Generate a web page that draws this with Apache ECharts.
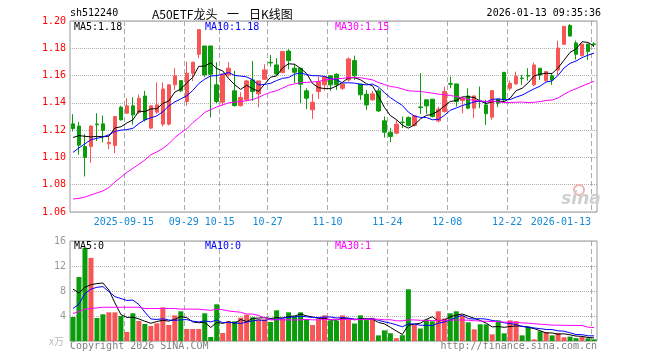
<!DOCTYPE html>
<html><head><meta charset="utf-8">
<script src="https://cdn.jsdelivr.net/npm/echarts@6/dist/echarts.min.js"></script>
<style>html,body{margin:0;padding:0;background:#fff}#c{width:660px;height:360px}</style>
</head><body><div id="c"></div>
<script>
const dates = ['2025-09-02','2025-09-03','2025-09-04','2025-09-05','2025-09-08','2025-09-09','2025-09-10','2025-09-11','2025-09-12',
'2025-09-15','2025-09-16','2025-09-17','2025-09-18','2025-09-19','2025-09-22','2025-09-23','2025-09-24','2025-09-25','2025-09-26',
'2025-09-29','2025-09-30','2025-10-09','2025-10-10','2025-10-13','2025-10-14','2025-10-15','2025-10-16','2025-10-17',
'2025-10-20','2025-10-21','2025-10-22','2025-10-23','2025-10-24','2025-10-27','2025-10-28','2025-10-29','2025-10-30','2025-10-31',
'2025-11-03','2025-11-04','2025-11-05','2025-11-06','2025-11-07','2025-11-10','2025-11-11','2025-11-12','2025-11-13','2025-11-14',
'2025-11-17','2025-11-18','2025-11-19','2025-11-20','2025-11-21','2025-11-24','2025-11-25','2025-11-26','2025-11-27','2025-11-28',
'2025-12-01','2025-12-02','2025-12-03','2025-12-04','2025-12-05','2025-12-08','2025-12-09','2025-12-10','2025-12-11','2025-12-12',
'2025-12-15','2025-12-16','2025-12-17','2025-12-18','2025-12-19','2025-12-22','2025-12-23','2025-12-24','2025-12-25','2025-12-26',
'2025-12-29','2025-12-30','2025-12-31','2026-01-05','2026-01-06','2026-01-07','2026-01-08','2026-01-09','2026-01-12','2026-01-13'];

const opens = [1.1246,1.123,1.108,1.108,1.1245,1.1246,1.110,1.1088,1.1368,1.1324,
1.1378,1.133,1.145,1.1215,1.1332,1.1244,1.1244,1.1532,1.1563,1.141,
1.1617,1.1756,1.1817,1.1817,1.1532,1.1405,1.1605,1.1488,1.138,1.1422,
1.1568,1.1466,1.1573,1.1697,1.1678,1.1622,1.178,1.1654,1.1654,1.1488,
1.1349,1.1483,1.1532,1.1598,1.161,1.1507,1.1568,1.171,1.1537,1.1463,
1.1422,1.1488,1.1268,1.1185,1.1178,1.1259,1.1293,1.1234,1.137,1.1422,
1.1427,1.1268,1.1337,1.1541,1.1539,1.1417,1.1451,1.1361,1.1415,1.1385,
1.1295,1.1427,1.1624,1.1507,1.1539,1.1582,1.160,1.1532,1.1654,1.1563,
1.1598,1.164,1.183,1.1967,1.1839,1.1748,1.1831,1.1832];
const closes = [1.1212,1.109,1.100,1.123,1.124,1.1198,1.111,1.130,1.1276,1.1378,
1.1312,1.1434,1.1276,1.1378,1.1385,1.1502,1.1532,1.1598,1.1488,1.1617,
1.1698,1.1937,1.1605,1.161,1.141,1.161,1.1654,1.138,1.1439,1.1561,
1.1483,1.1561,1.1641,1.1693,1.1612,1.1776,1.171,1.1624,1.1537,1.1434,
1.1405,1.1556,1.1593,1.1532,1.1532,1.1537,1.1722,1.1598,1.1459,1.1385,
1.1466,1.1341,1.1185,1.1154,1.1244,1.1256,1.1234,1.1305,1.1366,1.1378,
1.130,1.1354,1.1483,1.1537,1.141,1.1434,1.1361,1.1451,1.141,1.132,
1.149,1.1398,1.1422,1.1544,1.1593,1.1578,1.1596,1.1678,1.1605,1.1629,
1.1568,1.1802,1.1961,1.189,1.1756,1.1831,1.1776,1.1828];
const lows = [1.119,1.102,1.086,1.096,1.112,1.111,1.106,1.103,1.127,1.132,
1.124,1.132,1.1263,1.1207,1.132,1.1227,1.1234,1.1495,1.1478,1.138,
1.156,1.1727,1.159,1.1293,1.1398,1.138,1.1593,1.1373,1.1373,1.1415,
1.1415,1.1368,1.1568,1.1666,1.1598,1.162,1.1646,1.1546,1.1398,1.1354,
1.1283,1.1429,1.149,1.149,1.1495,1.1495,1.1556,1.1568,1.1422,1.1349,
1.1415,1.1332,1.1146,1.1112,1.117,1.1215,1.1227,1.1227,1.132,1.132,
1.1293,1.1256,1.1329,1.1507,1.1373,1.1324,1.1354,1.1288,1.1361,1.1239,
1.1276,1.1368,1.141,1.149,1.1532,1.1532,1.1563,1.1524,1.1568,1.1556,
1.1532,1.1605,1.1824,1.1885,1.1717,1.1739,1.1715,1.181];
const highs = [1.1317,1.126,1.117,1.1235,1.1324,1.1307,1.1154,1.1302,1.1378,1.1434,
1.144,1.146,1.1488,1.1382,1.155,1.155,1.1536,1.1654,1.1566,1.1702,
1.1702,1.1937,1.1817,1.1817,1.1698,1.161,1.1698,1.1634,1.1478,1.1568,
1.1707,1.1561,1.1683,1.1751,1.1727,1.178,1.1793,1.1683,1.1658,1.1507,
1.1466,1.1593,1.1598,1.1602,1.1617,1.1544,1.1734,1.1746,1.1537,1.1495,
1.1488,1.1507,1.13,1.1215,1.1276,1.13,1.13,1.1312,1.1617,1.1422,
1.1427,1.1373,1.152,1.1593,1.1539,1.1441,1.1507,1.1451,1.152,1.1422,
1.149,1.1427,1.1624,1.1563,1.1629,1.1605,1.1654,1.1695,1.1654,1.1629,
1.1615,1.1856,1.1963,1.1977,1.1856,1.1831,1.1831,1.1845];
const volumes = [3.84,10.24,14.9,13.3,3.68,4.27,4.59,4.59,4.0,1.44,
4.43,3.2,2.72,2.4,2.83,5.39,2.56,4.1,4.75,1.92,
1.92,1.92,4.43,0.64,5.87,1.28,3.15,3.15,3.73,4.21,
3.79,3.47,3.47,3.04,4.91,3.52,4.59,3.95,4.59,3.5,
2.56,3.47,4.1,3.3,3.25,4.1,3.5,2.8,4.1,3.35,
3.7,0.9,1.7,1.25,0.45,0.93,8.27,2.58,2.0,3.45,
3.15,4.75,3.6,4.43,4.75,4.1,2.99,1.87,2.67,2.67,
1.07,3.3,1.23,3.3,3.15,0.9,2.3,0.27,1.55,1.42,
0.9,1.3,0.6,0.7,0.45,0.64,0.43,0.27];

const ma5Head = [1.1146,1.116,1.1155,1.115];
const ma10Head = [1.1037,1.107,1.110,1.113,1.114,1.115,1.1166,1.119,1.120];
const ma30Head = [1.0695,1.070,1.071,1.0725,1.074,1.0755,1.078,1.082,1.0855,1.089,1.092,1.095,1.098,1.102,1.104,
1.1065,1.110,1.1145,1.118,1.121,1.1255,1.129,1.133,1.135,1.137,1.1385,1.140,1.1405,1.141];
const vMa5Head = [8.3,7.7,8.6,9.0];
const vMa10Head = [5.2,5.9,7.6,8.3,8.6,8.7,7.9,7.1,6.8];
const vMa30Head = [4.4,4.7,5.1,5.2,5.3,5.4,5.4,5.4,5.4,5.4,5.4,5.4,5.2,5.2,5.2,5.2,5.2,5.2,5.1,5.1,5.1,5.1,5.0,4.9,5.1,5.0,4.8,4.7,4.6];

const tickIdx = [9,19,25,33,43,53,63,73,87];
const tickLabels = ['2025-09-15','09-29','10-15','10-27','11-10','11-24','12-08','12-22','2026-01-13'];
const yTicksMain = [1.06,1.20,0.02];
const yTicksVol = [0,16,4];
const titleParts = ['A50ETF龙头','一','日K线图'];
const headerTexts = ['sh512240','2026-01-13 09:35:36'];
const priceLegend = ['MA5:1.18','MA10:1.18','MA30:1.15'];
const volLegend = ['MA5:0','MA10:0','MA30:1'];
const footerTexts = ['Copyright 2026 SINA.COM','http://finance.sina.com.cn','x万'];

function ma(arr, n, head){
  return arr.map((v,i)=>{
    if(i < n-1) return head[i];
    let s=0; for(let k=i-n+1;k<=i;k++) s+=arr[k];
    return +(s/n).toFixed(5);
  });
}
const RED='#f85656', GREEN='#0a9c0a';
const MONO='DejaVu Sans Mono';
const CJK='"Noto Sans CJK SC"';
const kData = dates.map((d,i)=>[opens[i],closes[i],lows[i],highs[i]]);
const volData = volumes.map((v,i)=>({value:v,itemStyle:{color: closes[i]>=opens[i]?RED:GREEN}}));
const edges = dates.concat(['']);
const isTick = (idx)=> tickIdx.indexOf(idx)>=0;
const gridLine = {show:true, lineStyle:{color:'#b0b0b0', type:'dotted', width:1}};
const vLine = {show:true, interval:(idx)=>isTick(idx), lineStyle:{color:'#aaa', type:[5,3], width:1}};

const chart = echarts.init(document.getElementById('c'), null, {renderer:'canvas'});
const lineS = (name, data, color, xi, yi)=>({name, type:'line', data, xAxisIndex:xi, yAxisIndex:yi, symbol:'none', silent:true,
  lineStyle:{color, width:1}, itemStyle:{color}, z:5});
chart.setOption({
  animation:false,
  backgroundColor:'#fff',
  grid:[
    {left:70, top:21, width:527, height:191, show:true, borderColor:'#999', borderWidth:1},
    {left:70, top:241, width:527, height:100, show:true, borderColor:'#999', borderWidth:1}
  ],
  xAxis:[
    {type:'category', gridIndex:0, data:dates, boundaryGap:true, axisLine:{show:false}, axisTick:{show:false}, axisLabel:{show:false}, splitLine:{show:false}},
    {type:'category', gridIndex:1, data:dates, boundaryGap:true, axisLine:{show:false}, axisTick:{show:false}, axisLabel:{show:false}, splitLine:{show:false}},
    {type:'category', gridIndex:0, data:edges, boundaryGap:false, position:'bottom', axisLine:{show:false}, axisTick:{show:false},
      axisLabel:{interval:(idx)=>isTick(idx), margin:5, color:'#1589d6', fontFamily:MONO, fontSize:10,
        formatter:(v,idx)=>{const k=tickIdx.indexOf(idx); if(k<0) return ''; let s=tickLabels[k]; if(k===tickIdx.length-1) s = s + ' '.repeat(s.length); return s;}},
      splitLine:vLine},
    {type:'category', gridIndex:1, data:edges, boundaryGap:false, position:'bottom', axisLine:{show:false}, axisTick:{show:false},
      axisLabel:{show:false}, splitLine:vLine}
  ],
  yAxis:[
    {type:'value', gridIndex:0, min:yTicksMain[0], max:yTicksMain[1], interval:yTicksMain[2], axisLine:{show:false}, axisTick:{show:false},
      axisLabel:{color:'#f00', fontFamily:MONO, fontSize:10, margin:4, formatter:v=>v.toFixed(2)}, splitLine:gridLine},
    {type:'value', gridIndex:1, min:yTicksVol[0], max:yTicksVol[1], interval:yTicksVol[2], axisLine:{show:false}, axisTick:{show:false},
      axisLabel:{color:'#999', fontFamily:MONO, fontSize:10, margin:4, formatter:v=>v===0?'':String(v)}, splitLine:gridLine}
  ],
  series:[
    {type:'candlestick', data:kData, xAxisIndex:0, yAxisIndex:0, barWidth:4, silent:true,
      itemStyle:{color:RED, color0:GREEN, borderColor:RED, borderColor0:GREEN, borderWidth:1}},
    lineS('MA5', ma(closes,5,ma5Head), '#000', 0, 0),
    lineS('MA10', ma(closes,10,ma10Head), '#0000ff', 0, 0),
    lineS('MA30', ma(closes,30,ma30Head), '#ff00ff', 0, 0),
    {type:'bar', data:volData, xAxisIndex:1, yAxisIndex:1, barWidth:5, silent:true},
    lineS('VMA5', ma(volumes,5,vMa5Head), '#000', 1, 1),
    lineS('VMA10', ma(volumes,10,vMa10Head), '#0000ff', 1, 1),
    lineS('VMA30', ma(volumes,30,vMa30Head), '#ff00ff', 1, 1)
  ],
  graphic:[
    {type:'text', left:70, top:8, style:{text:headerTexts[0], font:'10px '+MONO, fill:'#000'}},
    {type:'text', x:152, y:14, style:{text:titleParts[0], font:'12px '+CJK, fill:'#000', verticalAlign:'middle'}},
    {type:'text', x:227, y:14, style:{text:titleParts[1], font:'12px '+CJK, fill:'#000', verticalAlign:'middle'}},
    {type:'text', x:249, y:14, style:{text:titleParts[2], font:'12px '+CJK, fill:'#000', verticalAlign:'middle'}},
    {type:'text', right:59, top:8, style:{text:headerTexts[1], font:'10px '+MONO, fill:'#000'}},
    {type:'text', x:74, y:27, style:{text:priceLegend[0], font:'10px '+MONO, fill:'#000', verticalAlign:'middle'}, z:20},
    {type:'text', x:205, y:27, style:{text:priceLegend[1], font:'10px '+MONO, fill:'#0000ff', verticalAlign:'middle'}, z:20},
    {type:'text', x:335, y:27, style:{text:priceLegend[2], font:'10px '+MONO, fill:'#ff00ff', verticalAlign:'middle'}, z:20},
    {type:'text', x:74, y:246, style:{text:volLegend[0], font:'10px '+MONO, fill:'#000', verticalAlign:'middle'}, z:20},
    {type:'text', x:205, y:246, style:{text:volLegend[1], font:'10px '+MONO, fill:'#0000ff', verticalAlign:'middle'}, z:20},
    {type:'text', x:335, y:246, style:{text:volLegend[2], font:'10px '+MONO, fill:'#ff00ff', verticalAlign:'middle'}, z:20},
    {type:'text', x:70, y:346, style:{text:footerTexts[0], font:'10px '+MONO, fill:'#808080', verticalAlign:'middle'}},
    {type:'text', x:597, y:346, style:{text:footerTexts[1], font:'10px '+MONO, fill:'#808080', verticalAlign:'middle', align:'right'}},
    {type:'text', x:64, y:341, style:{text:footerTexts[2], font:'10px '+CJK, fill:'#bbb', verticalAlign:'middle', align:'right'}},
    {type:'circle', shape:{cx:579, cy:190, r:5}, style:{fill:'none', stroke:'#f4b0b0', lineWidth:2}, z:1},
    {type:'text', x:581, y:200, style:{text:'sina', font:'italic bold 17px "DejaVu Sans"', fill:'#cfcfcf', align:'center', verticalAlign:'middle'}, z:1}
  ]
});
</script></body></html>
